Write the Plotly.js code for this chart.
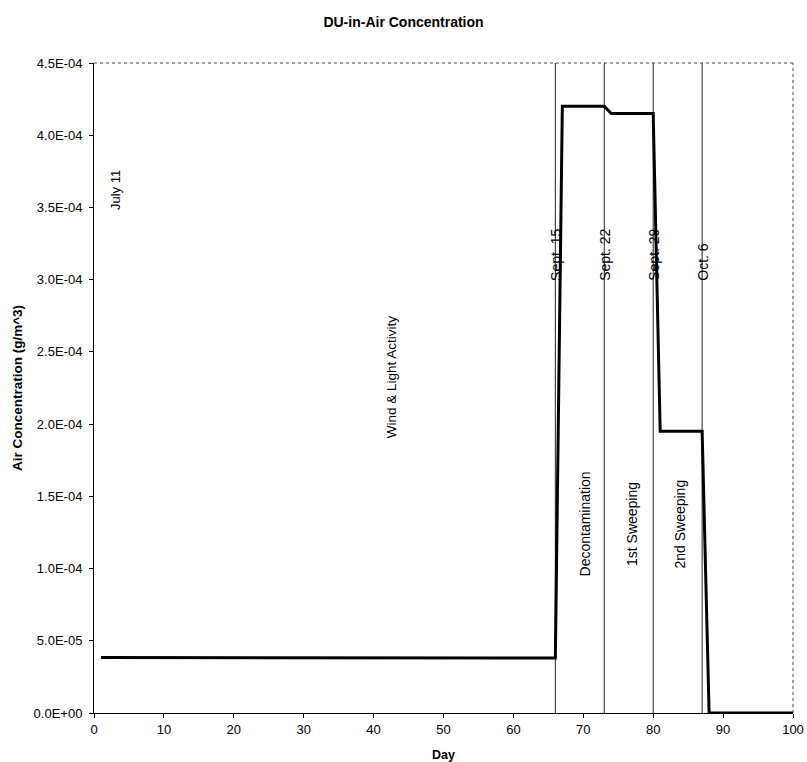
<!DOCTYPE html>
<html><head><meta charset="utf-8">
<script src="https://cdn.plot.ly/plotly-3.0.1.min.js"></script>
<style>html,body{margin:0;padding:0;background:#fff}#chart{width:807px;height:762px}</style>
</head><body><div id="chart"></div>
<script>
// Data
const days = [1, 66, 67, 73, 74, 80, 81, 87, 88, 100];
const concentration = [3.85e-5, 3.8e-5, 4.2e-4, 4.2e-4, 4.15e-4, 4.15e-4, 1.95e-4, 1.95e-4, 0, 0];
const eventDays = [66, 73, 80, 87];
const eventLabels = ["Sept. 15", "Sept. 22", "Sept. 29", "Oct. 6"];
const phaseDays = [70.2, 77.0, 83.8];
const phaseLabels = ["Decontamination", "1st Sweeping", "2nd Sweeping"];
const startDay = 3;
const startLabel = "July 11";
const windDay = 42.6;
const windLabel = "Wind & Light Activity";
const yTickVals = [0, 5e-5, 1e-4, 1.5e-4, 2e-4, 2.5e-4, 3e-4, 3.5e-4, 4e-4, 4.5e-4];
const yTickText = ["0.0E+00","5.0E-05","1.0E-04","1.5E-04","2.0E-04","2.5E-04","3.0E-04","3.5E-04","4.0E-04","4.5E-04"];
const xTickVals = [0,10,20,30,40,50,60,70,80,90,100];

const FONT = "Liberation Sans, Arial, sans-serif";
const traces = [];
eventDays.forEach(d => {
  traces.push({x:[d,d], y:[0,4.5e-4], mode:'lines', line:{color:'#222', width:1}, hoverinfo:'skip', showlegend:false});
});
traces.push({x:days, y:concentration, mode:'lines', line:{color:'#000', width:3}, showlegend:false});

const annotations = [];
eventDays.forEach((d,i) => annotations.push({x:d, y:2.98e-4, xref:'x', yref:'y', text:eventLabels[i], textangle:-90, showarrow:false, xanchor:'center', yanchor:'bottom', font:{size:14, color:'#000', family:FONT}}));
phaseDays.forEach((d,i) => annotations.push({x:d, y:1.31e-4, xref:'x', yref:'y', text:phaseLabels[i], textangle:-90, showarrow:false, xanchor:'center', yanchor:'middle', font:{size:14, color:'#000', family:FONT}}));
annotations.push({x:startDay, y:3.62e-4, xref:'x', yref:'y', text:startLabel, textangle:-90, showarrow:false, font:{size:13, color:'#000', family:FONT}});
annotations.push({x:windDay, y:2.33e-4, xref:'x', yref:'y', text:windLabel, textangle:-90, showarrow:false, font:{size:13.5, color:'#000', family:FONT}});

const layout = {
  width:807, height:762,
  margin:{l:94, r:14, t:63, b:49},
  paper_bgcolor:'#fff', plot_bgcolor:'#fff',
  font:{family:FONT, color:'#000', size:13},
  title:{text:'<b>DU-in-Air Concentration</b>', x:0.5, xref:'container', xanchor:'center', y:0.978, yref:'container', font:{size:14, family:FONT, color:'#000'}},
  xaxis:{range:[0,100], tickvals:xTickVals, ticks:'outside', ticklen:4, tickcolor:'#000', showgrid:false, zeroline:false,
         showline:true, linecolor:'#000', linewidth:1, mirror:false, tickfont:{size:13},
         title:{text:'<b>Day</b>', font:{size:12.5}, standoff:14}},
  yaxis:{range:[0,4.5e-4], tickvals:yTickVals, ticktext:yTickText, ticks:'outside', ticklen:4, tickcolor:'#000', showgrid:false, zeroline:false,
         showline:true, linecolor:'#000', linewidth:1, tickfont:{size:13}, ticklabelstandoff:4,
         title:{text:'<b>Air Concentration (g/m^3)</b>', font:{size:13.5}, standoff:7}},
  shapes:[
    {type:'line', xref:'paper', yref:'paper', x0:0, x1:1, y0:1, y1:1, line:{color:'#444', width:1, dash:'dot'}},
    {type:'line', xref:'paper', yref:'paper', x0:1, x1:1, y0:0, y1:1, line:{color:'#444', width:1, dash:'dot'}}
  ],
  annotations:annotations
};
Plotly.newPlot('chart', traces, layout, {displayModeBar:false, staticPlot:true});
</script></body></html>
